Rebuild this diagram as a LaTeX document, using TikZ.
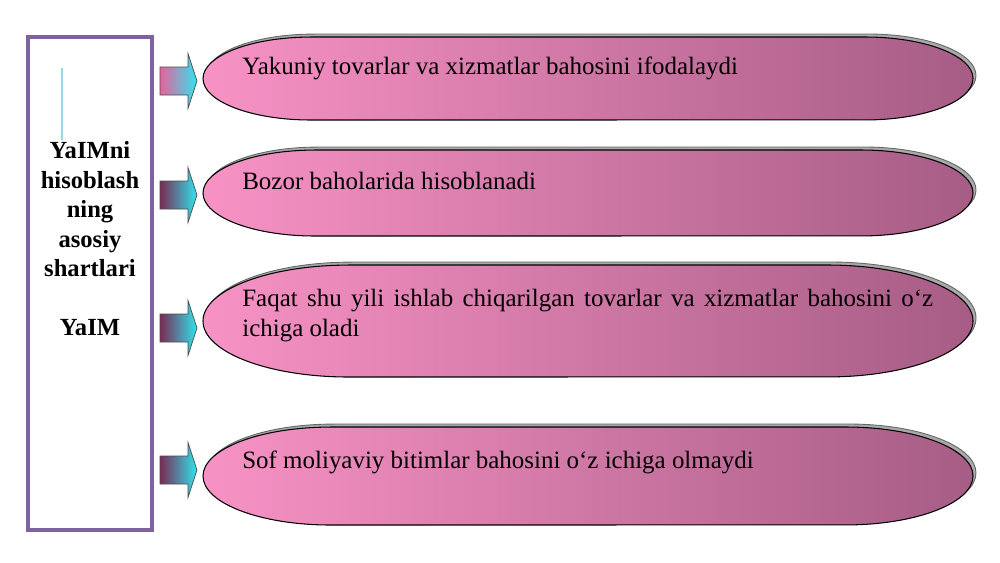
\documentclass[tikz,border=0pt]{standalone}
\usepackage{fontspec}
\setmainfont{Liberation Serif}
\definecolor{pillL}{HTML}{F892C5}
\definecolor{pillR}{HTML}{A65D85}
\definecolor{shadowc}{HTML}{A9A9A9}
\definecolor{boxc}{HTML}{7F63A1}
\definecolor{arrA}{HTML}{E8629C}
\definecolor{arrB}{HTML}{7A2A55}
\definecolor{arrC}{HTML}{30E4EE}
\definecolor{cursorc}{HTML}{9CD6E6}
\tikzset{
  pillshadow/.style={fill=shadowc, draw=gray!80!black, line width=0.5pt},
  pillbody/.style={left color=pillL, right color=pillR, draw=black, line width=0.6pt},
  pilltext/.style={anchor=west, inner sep=0pt, font=\fontsize{14.2}{17}\selectfont},
  blockarrow/.style={right color=arrC, draw=black!70, line width=0.4pt},
  sidebox/.style={draw=boxc, line width=2.3pt},
  sidetext/.style={align=center, inner sep=0pt, font=\fontsize{14}{16.8}\selectfont\bfseries}
}
\newcommand\drawpill[2]{%
  \pgfmathsetmacro\pry{(#2-#1)*0.01}%
  \pgfmathsetmacro\prx{(#2-#1)*1.3}%
  \pgfmathsetmacro\prxcm{\prx*0.02}%
  \pgfmathsetmacro\pxl{203+\prx}%
  \pgfmathsetmacro\pxr{973-\prx}%
  \draw[pillshadow] (\pxl+3,#1-3) -- (\pxr+3,#1-3)
    arc[start angle=90,end angle=-90,x radius=\prxcm cm,y radius=\pry cm]
    -- (\pxl+3,#2-3)
    arc[start angle=270,end angle=90,x radius=\prxcm cm,y radius=\pry cm] -- cycle;
  \shadedraw[pillbody] (\pxl,#1) -- (\pxr,#1)
    arc[start angle=90,end angle=-90,x radius=\prxcm cm,y radius=\pry cm]
    -- (\pxl,#2)
    arc[start angle=270,end angle=90,x radius=\prxcm cm,y radius=\pry cm] -- cycle;
}
\newcommand\drawblockarrow[2]{%
  \shadedraw[blockarrow, left color=#2] (160,#1-14) -- (188,#1-14) -- (188,#1-27.5)
    -- (197,#1) -- (188,#1+27.5) -- (188,#1+14) -- (160,#1+14) -- cycle;
}
\begin{document}
\begin{tikzpicture}[x=0.02cm, y=-0.02cm]
  \useasboundingbox[fill=white] (0,0) rectangle (1000,562);
  % side box
  \draw[sidebox] (28,37) rectangle (152,530);
  \draw[cursorc, line width=0.6pt] (62,68) -- (62,140);
  \node[sidetext] (side) at (90,239) {YaIMni\\hisoblash\\ning\\asosiy\\shartlari\\[16.8pt]YaIM};
  % arrows
  \drawblockarrow{81}{arrA}
  \drawblockarrow{195}{arrB}
  \drawblockarrow{328}{arrB}
  \drawblockarrow{470}{arrB}
  % pills
  \drawpill{37}{120}
  \drawpill{150}{236}
  \drawpill{265}{377}
  \drawpill{427}{525}
  % texts
  \node[pilltext] (t1) at (242,68) {Yakuniy tovarlar va xizmatlar bahosini ifodalaydi};
  \node[pilltext] (t2) at (242,181) {Bozor baholarida hisoblanadi};
  \node[pilltext, anchor=north west, text width=13.82cm, align=justify] (t3) at (242,289)
    {Faqat shu yili ishlab chiqarilgan tovarlar va xizmatlar bahosini o‘z ichiga oladi};
  \node[pilltext] (t4) at (242,462) {Sof moliyaviy bitimlar bahosini o‘z ichiga olmaydi};
\end{tikzpicture}
\end{document}
